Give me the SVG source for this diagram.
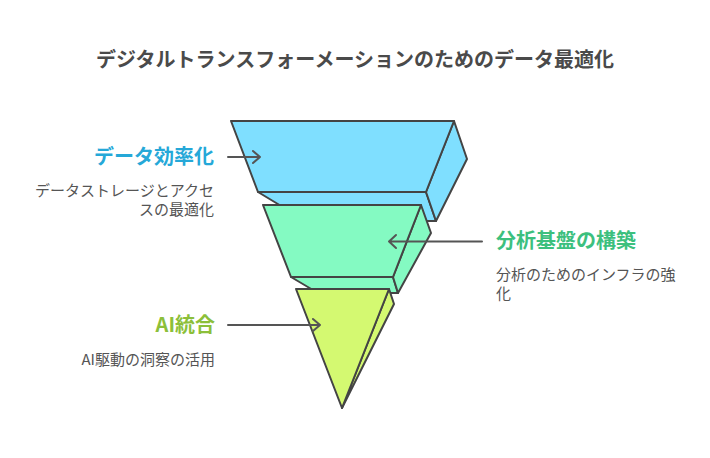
<svg xmlns="http://www.w3.org/2000/svg" width="710" height="458" viewBox="0 0 710 458">
<style>
.s{stroke:#444;stroke-width:2;stroke-linejoin:round}
.b{fill:#7fdfff}
.g{fill:#84fac2}
.y{fill:#d4f971}
.t{font-family:"Noto Sans CJK JP","Noto Sans",sans-serif}
.h{font-weight:bold;font-size:20px}
.d{font-size:15px;fill:#555}
.c{fill:none;stroke:#555;stroke-width:2;stroke-linecap:round;stroke-linejoin:round}
</style>
<rect width="710" height="458" fill="#fff"/>
<text class="t" x="355" y="67" text-anchor="middle" font-size="20" font-weight="bold" fill="#4a4a4a">デジタルトランスフォーメーションのためのデータ最適化</text>
<g id="layer1">
<polygon class="s b" points="258,192 426,192 436,221 306,221"/>
<polygon class="s b" points="454,121 467,159 436,221 426,192"/>
<polygon class="s b" points="231,121 454,121 426,192 258,192"/>
</g>
<g id="layer2">
<polygon class="s g" points="291,277 393,277 398,293 318,293"/>
<polygon class="s g" points="421,205 431,233 398,293 393,277"/>
<polygon class="s g" points="263,205 421,205 393,277 291,277"/>
</g>
<g id="layer3">
<polygon class="s y" points="389,289 394,304 342,408"/>
<polygon class="s y" points="296,289 389,289 342,408"/>
</g>
<g id="connectors">
<path class="c" d="M228,157 H260 M253,151 L260,157 L253,163"/>
<path class="c" d="M482,241.5 H389 M396,235 L389,241.5 L396,248"/>
<path class="c" d="M228,325 H320 M313,319 L320,325 L313,331"/>
</g>
<g id="label1">
<text class="t h" x="214" y="164" text-anchor="end" fill="#25a8d8">データ効率化</text>
<text class="t d" x="214" y="196" text-anchor="end">データストレージとアクセ</text>
<text class="t d" x="214" y="215" text-anchor="end">スの最適化</text>
</g>
<g id="label2">
<text class="t h" x="496" y="248" fill="#3cc07e">分析基盤の構築</text>
<text class="t d" x="496" y="280">分析のためのインフラの強</text>
<text class="t d" x="496" y="299">化</text>
</g>
<g id="label3">
<text class="t h" x="215" y="332" text-anchor="end" fill="#8cbf3a">AI統合</text>
<text class="t d" x="215" y="365" text-anchor="end">AI駆動の洞察の活用</text>
</g>
</svg>
